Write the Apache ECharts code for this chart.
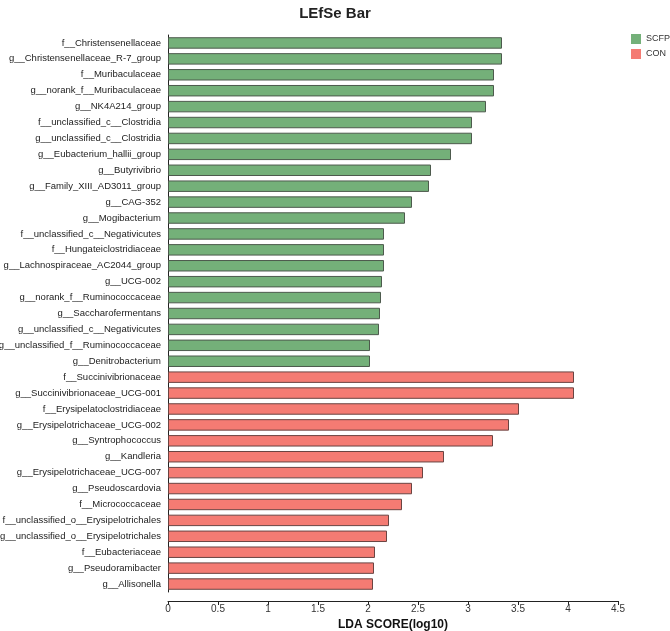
<!DOCTYPE html>
<html>
<head>
<meta charset="utf-8">
<script src="https://cdn.jsdelivr.net/npm/echarts@6/dist/echarts.min.js"></script>
<style>
  html, body { margin: 0; padding: 0; background: #fff; }
  #chart { width: 670px; height: 631px; }
</style>
</head>
<body>
<div id="chart"></div>
<script>
// SCFP group (green)
var scfpNames = [
  'f__Christensenellaceae', 'g__Christensenellaceae_R-7_group', 'f__Muribaculaceae',
  'g__norank_f__Muribaculaceae', 'g__NK4A214_group', 'f__unclassified_c__Clostridia',
  'g__unclassified_c__Clostridia', 'g__Eubacterium_hallii_group', 'g__Butyrivibrio',
  'g__Family_XIII_AD3011_group', 'g__CAG-352', 'g__Mogibacterium',
  'f__unclassified_c__Negativicutes', 'f__Hungateiclostridiaceae', 'g__Lachnospiraceae_AC2044_group',
  'g__UCG-002', 'g__norank_f__Ruminococcaceae', 'g__Saccharofermentans',
  'g__unclassified_c__Negativicutes', 'g__unclassified_f__Ruminococcaceae', 'g__Denitrobacterium'
]
var scfpValues = [3.34, 3.34, 3.26, 3.26, 3.18, 3.04, 3.04, 2.83, 2.63, 2.61, 2.44, 2.37,
  2.16, 2.16, 2.16, 2.14, 2.13, 2.12, 2.11, 2.02, 2.02]

// CON group (red)
var conNames = [
  'f__Succinivibrionaceae', 'g__Succinivibrionaceae_UCG-001', 'f__Erysipelatoclostridiaceae',
  'g__Erysipelotrichaceae_UCG-002', 'g__Syntrophococcus', 'g__Kandleria',
  'g__Erysipelotrichaceae_UCG-007', 'g__Pseudoscardovia', 'f__Micrococcaceae',
  'f__unclassified_o__Erysipelotrichales', 'g__unclassified_o__Erysipelotrichales', 'f__Eubacteriaceae',
  'g__Pseudoramibacter', 'g__Allisonella'
]
var conValues = [4.06, 4.06, 3.51, 3.41, 3.25, 2.76, 2.55, 2.44, 2.34, 2.21, 2.19, 2.07, 2.06, 2.05]

var xTicks = [0, 0.5, 1, 1.5, 2, 2.5, 3, 3.5, 4, 4.5]

var categories = scfpNames.concat(conNames)
var scfpData = scfpValues.concat(conNames.map(function () { return '-' }))
var conData = scfpNames.map(function () { return '-' }).concat(conValues)

var chart = echarts.init(document.getElementById('chart'))
chart.setOption({
  animation: false,
  textStyle: { fontFamily: '"Liberation Sans", Arial, sans-serif' },
  title: {
    text: 'LEfSe Bar',
    left: 'center',
    top: 1,
    textStyle: { fontSize: 15, fontWeight: 'bold', color: '#222' }
  },
  legend: {
    left: 631,
    top: 34,
    padding: 0,
    orient: 'vertical',
    itemWidth: 10,
    itemHeight: 10,
    itemGap: 5,
    icon: 'rect',
    itemStyle: { borderWidth: 0 },
    textStyle: { fontSize: 9, color: '#333' },
    data: ['SCFP', 'CON']
  },
  grid: {
    left: 168,
    right: 52,
    top: 35,
    bottom: 39,
    outerBoundsMode: 'none'
  },
  xAxis: {
    type: 'value',
    min: 0,
    max: 4.5,
    interval: 0.5,
    offset: 9,
    name: 'LDA SCORE(log10)',
    nameLocation: 'middle',
    nameGap: 17,
    nameTextStyle: { fontSize: 12, fontWeight: 'bold', color: '#111' },
    axisLine: { show: true, lineStyle: { color: '#222' } },
    axisTick: { show: true, length: 4, lineStyle: { color: '#222' } },
    axisLabel: {
      fontSize: 10, color: '#333', margin: 3,
      customValues: xTicks
    },
    splitLine: { show: false }
  },
  yAxis: {
    type: 'category',
    inverse: true,
    data: categories,
    axisLine: { show: true, lineStyle: { color: '#222' } },
    axisTick: { show: false },
    axisLabel: { fontSize: 9.5, color: '#222', margin: 7 }
  },
  series: [
    {
      name: 'SCFP',
      type: 'bar',
      data: scfpData,
      barCategoryGap: '28%',
      barGap: '-100%',
      itemStyle: { color: '#74b079', borderColor: '#4d5a4d', borderWidth: 1 }
    },
    {
      name: 'CON',
      type: 'bar',
      data: conData,
      barCategoryGap: '28%',
      barGap: '-100%',
      itemStyle: { color: '#f47b73', borderColor: '#6a4442', borderWidth: 1 }
    }
  ]
})
</script>
</body>
</html>
